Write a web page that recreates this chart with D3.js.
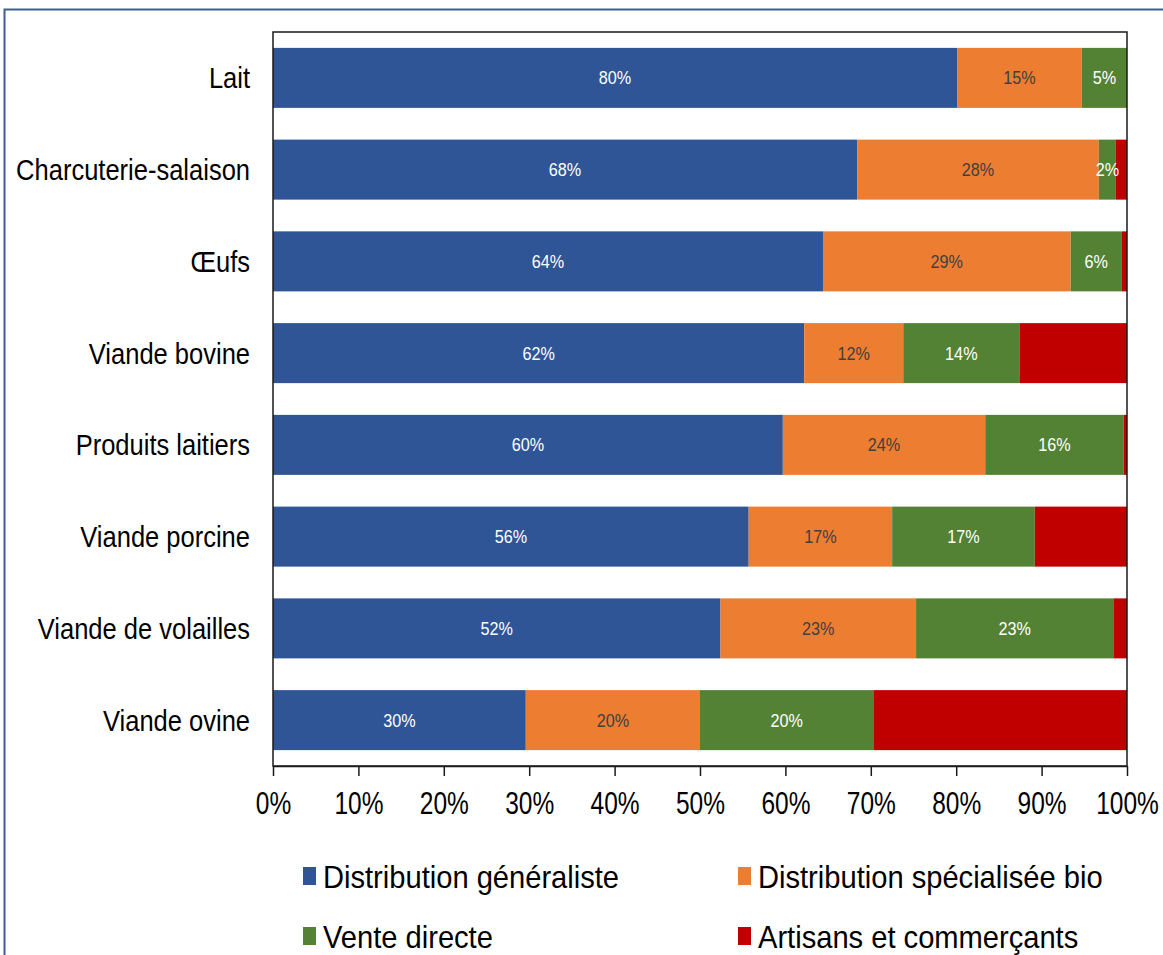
<!DOCTYPE html>
<html>
<head>
<meta charset="utf-8">
<script src="https://cdn.jsdelivr.net/npm/d3@7/dist/d3.min.js"></script>
<style>
  html, body { margin: 0; padding: 0; background: #fff; }
  svg { display: block; font-family: "Liberation Sans", Arial, sans-serif; }
</style>
</head>
<body>
<svg id="chart" width="1163" height="955"></svg>
<script>
// ---- Data ----
const categories = ["Lait", "Charcuterie-salaison", "Œufs", "Viande bovine", "Produits laitiers", "Viande porcine", "Viande de volailles", "Viande ovine"];
const seriesNames = ["Distribution généraliste", "Distribution spécialisée bio", "Vente directe", "Artisans et commerçants"];
const distributionGeneraliste = [80.1, 68.4, 64.4, 62.2, 59.7, 55.7, 52.4, 29.6];
const distributionSpecialisee = [14.6, 28.3, 29.0, 11.6, 23.7, 16.8, 22.9, 20.4];
const venteDirecte           = [5.3, 2.0, 6.0, 13.6, 16.2, 16.7, 23.1, 20.3];
const artisansCommercants    = [0.0, 1.3, 0.6, 12.6, 0.4, 10.8, 1.6, 29.7];
const labeledSeries = [true, true, true, false];
const tickValues = [0, 10, 20, 30, 40, 50, 60, 70, 80, 90, 100];

// ---- Styles ----
const colors = ["#2F5597", "#ED7D31", "#548235", "#C00000"];
const labelColors = ["#ffffff", "#404040", "#ffffff", "#ffffff"];

const seriesValues = [distributionGeneraliste, distributionSpecialisee, venteDirecte, artisansCommercants];
const rows = categories.map((c, i) => {
  const o = { cat: c };
  seriesNames.forEach((s, j) => o[s] = seriesValues[j][i]);
  return o;
});
const stacked = d3.stack().keys(seriesNames)(rows);

const svg = d3.select("#chart");
const plotLeft = 273, plotRight = 1127, plotTop = 32, plotBottom = 766;

// outer frame
svg.append("rect")
  .attr("x", 4.5).attr("y", 9.5).attr("width", 1300).attr("height", 1100)
  .attr("fill", "none").attr("stroke", "#3F5E94").attr("stroke-width", 2);

const x = d3.scaleLinear().domain([0, 100]).range([plotLeft, plotRight]);
const y = d3.scaleBand().domain(categories).range([plotTop, plotBottom]).paddingInner(0.346).paddingOuter(0.173);

// bars
const layers = svg.append("g").selectAll("g").data(stacked).join("g")
  .attr("fill", (d, i) => colors[i]);
layers.selectAll("rect").data(d => d).join("rect")
  .attr("x", d => x(d[0]))
  .attr("y", d => y(d.data.cat))
  .attr("width", d => x(d[1]) - x(d[0]))
  .attr("height", y.bandwidth());

// value labels
stacked.forEach((layer, i) => {
  if (!labeledSeries[i]) return;
  svg.append("g").selectAll("g").data(layer.filter(d => d[1] - d[0] >= 1.5)).join("g")
    .attr("transform", d => `translate(${(x(d[0]) + x(d[1])) / 2},${y(d.data.cat) + y.bandwidth() / 2})`)
    .append("text")
    .attr("transform", "scale(0.9,1)")
    .attr("text-anchor", "middle")
    .attr("dy", "0.36em")
    .attr("font-size", 18)
    .attr("fill", labelColors[i])
    .text(d => Math.round(d[1] - d[0]) + "%");
});

// plot frame
svg.append("rect")
  .attr("x", plotLeft).attr("y", plotTop).attr("width", plotRight - plotLeft).attr("height", plotBottom - plotTop)
  .attr("fill", "none").attr("stroke", "#1a1a1a").attr("stroke-width", 1.5);

// x axis
const xAxis = svg.append("g")
  .attr("transform", `translate(0,${plotBottom})`)
  .call(d3.axisBottom(x).tickValues(tickValues).tickFormat(d => d + "%").tickSize(10).tickSizeOuter(0));
xAxis.select(".domain").attr("stroke", "#1a1a1a").attr("stroke-width", 1.5);
xAxis.selectAll(".tick line").attr("stroke", "#1a1a1a").attr("stroke-width", 1.5);
xAxis.selectAll(".tick text")
  .attr("y", 37).attr("dy", "0.36em")
  .attr("font-size", 31)
  .attr("font-family", "'Liberation Sans', Arial, sans-serif")
  .attr("fill", "#000")
  .attr("transform", "scale(0.79,1)");

// category labels
svg.append("g").selectAll("g").data(categories).join("g")
  .attr("transform", d => `translate(250,${y(d) + y.bandwidth() / 2})`)
  .append("text")
  .attr("transform", "scale(0.88,1)")
  .attr("text-anchor", "end")
  .attr("dy", "0.36em")
  .attr("font-size", 29)
  .attr("fill", "#000")
  .text(d => d);

// legend
const legendPos = [[303, 876], [738, 876], [303, 936], [738, 936]];
const lg = svg.append("g").selectAll("g").data(seriesNames).join("g")
  .attr("transform", (d, i) => `translate(${legendPos[i][0]},${legendPos[i][1]})`);
lg.append("rect").attr("x", 0).attr("y", -9).attr("width", 13).attr("height", 18)
  .attr("fill", (d, i) => colors[i]);
lg.append("text")
  .attr("transform", "translate(20,0) scale(0.91,1)")
  .attr("dy", "0.36em")
  .attr("font-size", 32)
  .attr("fill", "#000")
  .text(d => d);
</script>
</body>
</html>
